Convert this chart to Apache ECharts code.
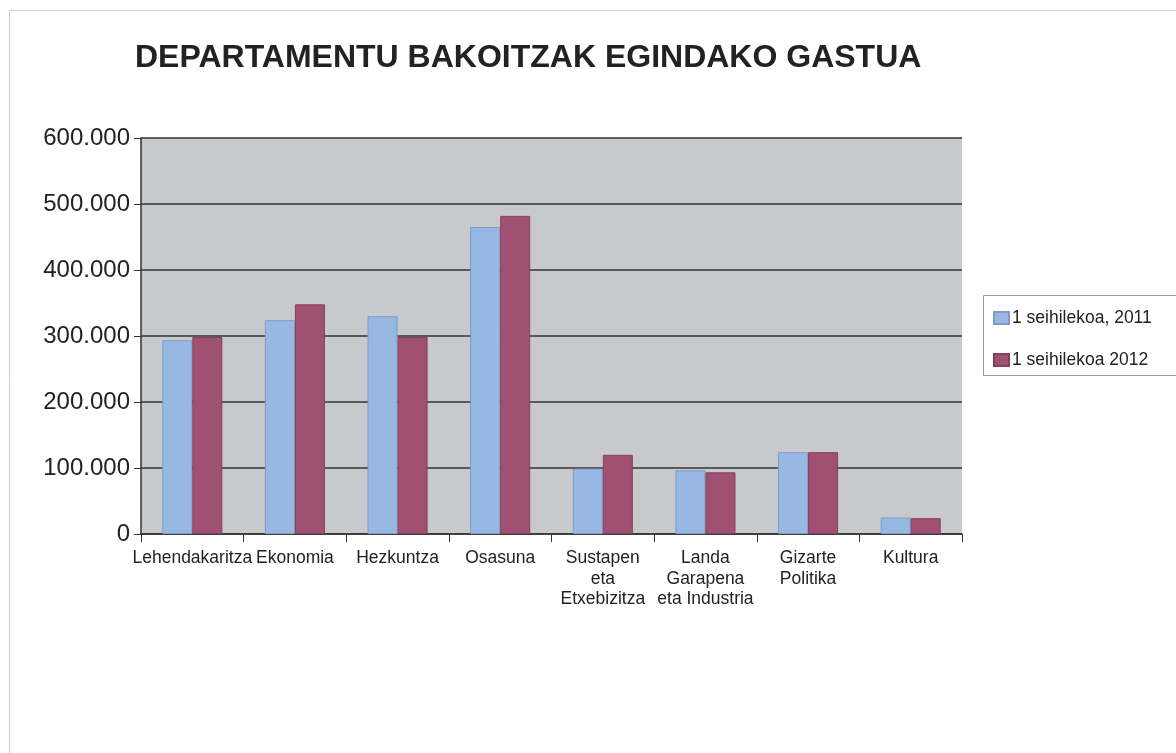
<!DOCTYPE html>
<html>
<head>
<meta charset="utf-8">
<script src="https://cdn.jsdelivr.net/npm/echarts@6/dist/echarts.min.js"></script>
<style>
  html, body { margin: 0; padding: 0; background: #fff; }
  #grafico { width: 1176px; height: 753px; }
</style>
</head>
<body>
<div id="grafico"></div>
<script>
// datos
const departamentos = ['Lehendakaritza', 'Ekonomia', 'Hezkuntza', 'Osasuna',
  'Sustapen\neta\nEtxebizitza', 'Landa\nGarapena\neta Industria', 'Gizarte\nPolitika', 'Kultura'];
const gastua2011 = [293500, 324000, 330000, 465000, 99000, 96500, 124000, 25000];
const gastua2012 = [298500, 348000, 298500, 482000, 120000, 93500, 124000, 24000];
const serieNames = ['1 seihilekoa, 2011', '1 seihilekoa 2012'];

const fontu = 'Liberation Sans, Arial, sans-serif';

function formatoMiles(v) {
  return String(v).replace(/\B(?=(\d{3})+(?!\d))/g, '.');
}

var myChart = echarts.init(document.getElementById('grafico'));
var options = {
  animation: false,
  backgroundColor: '#fff',
  title: {
    text: 'DEPARTAMENTU BAKOITZAK EGINDAKO GASTUA',
    left: 130,
    top: 37,
    textStyle: { fontFamily: fontu, fontSize: 32, fontWeight: 'bold', color: '#222' }
  },
  graphic: [
    { type: 'rect', shape: { x: 9.5, y: 10.5, width: 1300, height: 900 },
      style: { fill: 'none', stroke: '#cfcfcf', lineWidth: 1 } },
    { type: 'rect', shape: { x: 983.5, y: 295.5, width: 200, height: 80 },
      style: { fill: '#fff', stroke: '#999', lineWidth: 1 }, z: 1 }
  ],
  legend: {
    orient: 'vertical',
    left: 993,
    top: 309,
    padding: 0,
    itemGap: 24,
    itemWidth: 15,
    itemHeight: 12,
    icon: 'rect',
    z: 5,
    textStyle: { fontFamily: fontu, fontSize: 17.5, color: '#222', lineHeight: 18, padding: [0, 0, 0, -2] },
    data: serieNames
  },
  grid: { left: 141, right: 214, top: 138, bottom: 219, backgroundColor: '#c8c9cc', show: true, borderWidth: 0 },
  xAxis: {
    type: 'category',
    data: departamentos,
    axisLine: { lineStyle: { color: '#333', width: 1.5 } },
    axisTick: { show: true, length: 8, lineStyle: { color: '#333' } },
    axisLabel: { fontFamily: fontu, fontSize: 17.5, color: '#222', lineHeight: 20.5, margin: 14, interval: 0 }
  },
  yAxis: {
    type: 'value',
    min: 0,
    max: 600000,
    interval: 100000,
    axisLine: { show: true, lineStyle: { color: '#333', width: 1.5 } },
    axisTick: { show: true, length: 7, lineStyle: { color: '#333' } },
    splitLine: { lineStyle: { color: '#333', width: 1.5 } },
    axisLabel: { fontFamily: fontu, fontSize: 24, color: '#222', margin: 11, formatter: formatoMiles }
  },
  series: [
    { name: serieNames[0], type: 'bar', data: gastua2011, barGap: '0%', barCategoryGap: '41.5%',
      itemStyle: { color: '#96b8e2', borderColor: '#7f9cc4', borderWidth: 1 } },
    { name: serieNames[1], type: 'bar', data: gastua2012, barGap: '0%', barCategoryGap: '41.5%',
      itemStyle: { color: '#a05072', borderColor: '#84405d', borderWidth: 1 } }
  ]
};
myChart.setOption(options);
</script>
</body>
</html>
